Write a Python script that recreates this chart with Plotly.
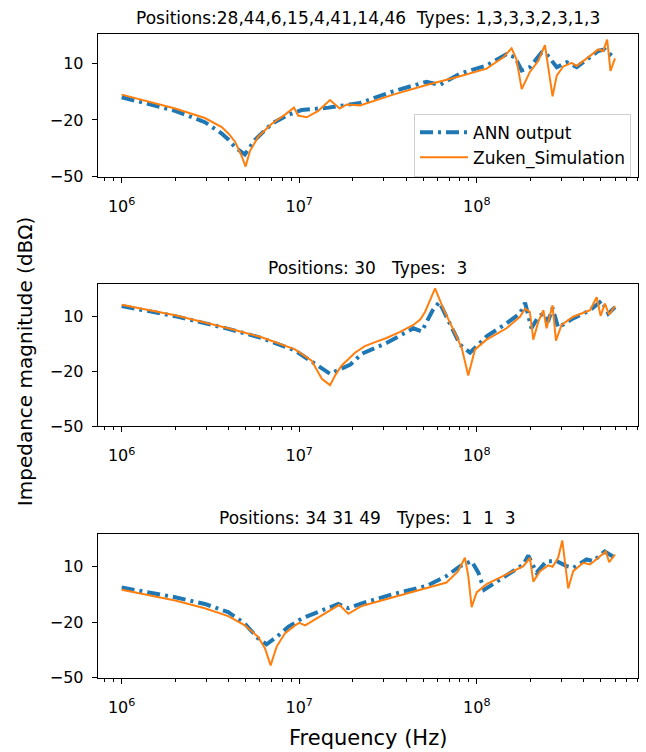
import plotly.graph_objects as go

# ---------------- data (frequency in Hz, impedance in dBOhm) ----------------
titles = [
    "Positions:28,44,6,15,4,41,14,46  Types: 1,3,3,3,2,3,1,3",
    "Positions: 30   Types:  3",
    "Positions: 34 31 49   Types:  1  1  3",
]

# Subplot 1
ann1_f = [1.00e6, 1.40e6, 2.00e6, 2.94e6, 3.66e6, 4.00e6, 4.35e6, 4.94e6, 5.62e6, 7.00e6, 8.71e6, 1.03e7,
          1.46e7, 2.20e7, 3.38e7, 5.21e7, 6.17e7, 8.04e7, 1.135e8, 1.47e8, 1.64e8, 1.79e8,
          1.99e8, 2.32e8, 2.47e8, 2.82e8, 3.21e8, 3.65e8, 4.34e8, 4.83e8, 5.25e8, 6.00e8]
ann1_z = [-8.0, -11.6, -15.2, -21.2, -27.2, -30.5, -34.4, -38.3, -30.6, -22.0, -17.2, -14.8,
          -13.5, -11.0, -4.9, 0.2, -1.5, 4.5, 8.8, 14.8, 13.1, 6.2,
          7.9, 15.7, 14.8, 7.9, 10.5, 7.9, 13.1, 16.5, 17.3, 12.6]
sim1_f = [1.00e6, 1.40e6, 2.00e6, 2.94e6, 3.66e6, 4.00e6, 4.35e6, 4.74e6, 4.99e6, 5.27e6, 5.87e6, 7.00e6,
          8.32e6, 9.33e6, 9.86e6, 1.10e7, 1.28e7, 1.49e7, 1.69e7, 1.85e7, 2.20e7, 3.38e7,
          5.21e7, 8.04e7, 1.135e8, 1.41e8, 1.57e8, 1.67e8, 1.79e8, 1.99e8, 2.22e8, 2.42e8,
          2.67e8, 2.82e8, 3.07e8, 3.42e8, 3.65e8, 4.34e8, 4.83e8, 5.15e8, 5.42e8, 5.66e8, 6.00e8]
sim1_z = [-6.6, -10.2, -14.0, -19.0, -23.8, -27.3, -31.5, -39.2, -44.7, -36.6, -28.9, -22.0,
          -17.2, -13.5, -17.7, -18.6, -15.2, -9.5, -14.0, -11.8, -12.3, -6.6,
          -1.5, 3.1, 7.1, 13.1, 17.9, 12.2, -3.7, 5.4, 11.3, 19.6,
          -7.5, 3.6, 8.3, 10.2, 8.5, 13.9, 17.3, 16.5, 22.5, 5.9, 12.6]

# Subplot 2
ann2_f = [1.00e6, 2.00e6, 3.98e6, 6.14e6, 9.46e6, 1.175e7, 1.34e7, 1.49e7, 1.94e7, 2.25e7,
          3.10e7, 4.39e7, 4.90e7, 5.64e7, 6.15e7, 7.00e7, 8.04e7, 9.16e7, 1.135e8, 1.47e8,
          1.75e8, 1.87e8, 2.03e8, 2.22e8, 2.37e8, 2.52e8, 2.67e8, 2.87e8, 3.49e8, 4.34e8,
          5.05e8, 5.50e8, 6.00e8]
ann2_z = [15.5, 10.0, 3.1, -1.9, -8.7, -14.7, -18.3, -21.4, -16.4, -10.5,
          -4.6, 3.4, 1.7, 13.2, 17.7, 7.0, -5.5, -9.9, -1.0, 6.1,
          11.4, 17.3, 3.4, 9.7, 11.4, 7.0, 14.5, 3.8, 8.8, 13.2,
          18.5, 11.4, 14.9]
sim2_f = [1.00e6, 2.00e6, 3.98e6, 6.14e6, 9.46e6, 1.175e7, 1.34e7, 1.49e7, 1.60e7, 1.73e7, 2.06e7,
          2.34e7, 2.70e7, 3.10e7, 3.70e7, 4.39e7, 4.80e7, 5.11e7, 5.82e7, 6.47e7, 7.38e7, 8.22e7, 8.95e7, 9.77e7,
          1.135e8, 1.47e8, 1.75e8, 1.87e8, 1.99e8, 2.08e8, 2.22e8, 2.37e8, 2.47e8, 2.67e8,
          2.79e8, 3.00e8, 3.49e8, 4.34e8, 4.73e8, 4.98e8, 5.26e8, 5.56e8, 6.00e8]
sim2_z = [16.2, 10.5, 3.4, -1.5, -8.1, -14.3, -24.1, -27.6, -22.0, -17.0, -9.9,
          -6.3, -4.0, -1.9, 1.4, 5.2, 8.2, 12.3, 25.1, 14.1, 2.5, -7.2, -22.3, -8.1,
          -2.8, 3.4, 9.7, 14.1, 12.3, -2.8, 7.0, 13.2, 3.4, 15.9,
          -3.3, 5.2, 9.7, 13.2, 20.3, 10.2, 16.8, 10.9, 15.5]

# Subplot 3
ann3_f = [1.00e6, 2.00e6, 2.94e6, 3.98e6, 4.94e6, 5.87e6, 6.55e6, 7.46e6, 8.67e6, 1.03e7,
          1.34e7, 1.66e7, 1.89e7, 2.25e7, 3.38e7, 5.21e7, 6.75e7, 8.04e7, 9.35e7, 1.02e8,
          1.10e8, 1.23e8, 1.47e8, 1.83e8, 1.95e8, 2.17e8, 2.47e8, 2.82e8, 3.20e8, 3.49e8,
          4.15e8, 4.53e8, 5.25e8, 6.00e8]
ann3_z = [-1.5, -6.7, -10.3, -14.7, -20.9, -28.8, -32.0, -28.0, -22.6, -18.2,
          -13.8, -10.3, -12.6, -10.0, -5.0, -0.6, 4.7, 10.0, 12.7, 6.5,
          -2.7, 0.3, 5.6, 10.9, 15.7, 6.5, 12.7, 12.7, 10.0, 9.1,
          13.6, 12.7, 17.9, 14.5]
sim3_f = [1.00e6, 2.00e6, 2.94e6, 3.98e6, 4.94e6, 5.87e6, 6.41e6, 6.90e6, 7.46e6, 8.30e6,
          9.46e6, 1.00e7, 1.08e7, 1.34e7, 1.68e7, 1.89e7, 2.25e7, 3.38e7, 5.21e7, 6.75e7,
          7.85e7, 8.57e7, 8.95e7, 9.35e7, 9.98e7, 1.135e8, 1.47e8, 1.83e8, 1.99e8, 2.08e8,
          2.27e8, 2.52e8, 2.67e8, 2.87e8, 3.03e8, 3.27e8, 3.49e8, 3.97e8, 4.34e8, 4.93e8,
          5.33e8, 5.56e8, 6.00e8]
sim3_z = [-2.7, -8.5, -12.6, -16.8, -21.8, -28.0, -34.1, -43.3, -33.2, -26.2,
          -21.8, -20.5, -21.8, -16.5, -10.8, -15.6, -11.4, -6.7, -2.0, 1.2,
          7.3, 14.5, 4.7, -12.0, -4.1, 0.3, 5.6, 10.0, 14.5, 1.7,
          7.3, 10.4, 9.7, 14.5, 23.8, -2.0, 7.3, 11.8, 10.9, 15.0,
          17.9, 12.1, 16.2]

ann_series = [(ann1_f, ann1_z), (ann2_f, ann2_z), (ann3_f, ann3_z)]
sim_series = [(sim1_f, sim1_z), (sim2_f, sim2_z), (sim3_f, sim3_z)]
y_top = [25.7, 27.6, 27.0]
y_ticks = [-50, -20, 10]
x_ticks = [1e6, 1e7, 1e8]
x_ticktext = ["10<sup>6</sup>", "10<sup>7</sup>", "10<sup>8</sup>"]
series_names = ["ANN output", "Zuken_Simulation"]

# ---------------- layout geometry ----------------
W, H = 646, 752
x_left, x_right = 97.7, 637.7
rows_px = [(34.0, 179.0), (287.7, 432.0), (541.7, 687.0)]

minor_vals = [m * 10 ** e for e in range(5, 9) for m in range(2, 10)]

FONT = "DejaVu Sans"
BLUE = "#1f77b4"
ORANGE = "#ff7f0e"

fig = go.Figure()
for i in range(3):
    xa = "x" if i == 0 else f"x{i+1}"
    ya = "y" if i == 0 else f"y{i+1}"
    fa, za = ann_series[i]
    fs, zs = sim_series[i]
    fig.add_trace(go.Scatter(x=fa, y=za, mode="lines", name=series_names[0],
                             line=dict(color=BLUE, width=4, dash="13px,5px,3px,5px"),
                             xaxis=xa, yaxis=ya, showlegend=(i == 0)))
    fig.add_trace(go.Scatter(x=fs, y=zs, mode="lines", name=series_names[1],
                             line=dict(color=ORANGE, width=2),
                             xaxis=xa, yaxis=ya, showlegend=(i == 0)))

layout = dict(
    width=W, height=H,
    margin=dict(l=0, r=0, t=0, b=0),
    paper_bgcolor="white", plot_bgcolor="white",
    font=dict(family=FONT, size=16, color="black"),
    legend=dict(x=631 / W, xanchor="right", y=1 - 179 / H, yanchor="bottom",
                bgcolor="rgba(255,255,255,0.8)", bordercolor="#d0d0d0", borderwidth=1,
                font=dict(size=17, family=FONT), tracegroupgap=0,
                itemwidth=48),
)
annotations = []
for i in range(3):
    top, bot = rows_px[i]
    xkey = "xaxis" if i == 0 else f"xaxis{i+1}"
    ykey = "yaxis" if i == 0 else f"yaxis{i+1}"
    yname = "y" if i == 0 else f"y{i+1}"
    xname = "x" if i == 0 else f"x{i+1}"
    layout[xkey] = dict(
        type="log", domain=[x_left / W, x_right / W], anchor=yname,
        range=[5.865, 8.906], tickvals=x_ticks, ticktext=x_ticktext,
        ticks="outside", ticklen=5, tickwidth=1, tickcolor="black",
        ticklabelstandoff=10,
        showline=True, linecolor="black", linewidth=1, mirror=True,
        showgrid=False, zeroline=False, tickfont=dict(size=16, family=FONT),
        minor=dict(tickvals=minor_vals, ticks="outside", ticklen=3, tickwidth=1,
                   tickcolor="black", showgrid=False),
    )
    layout[ykey] = dict(
        domain=[1 - bot / H, 1 - top / H], anchor=xname,
        range=[-50, y_top[i]], tickvals=y_ticks,
        ticktext=[f"\u2212{abs(v)}" if v < 0 else str(v) for v in y_ticks],
        ticks="outside", ticklen=5, tickwidth=1, tickcolor="black",
        ticklabelstandoff=5,
        showline=True, linecolor="black", linewidth=1, mirror=True,
        showgrid=False, zeroline=False, tickfont=dict(size=16, family=FONT),
    )
    annotations.append(dict(
        text=titles[i], xref="paper", yref="paper",
        x=(x_left + x_right) / 2 / W, y=1 - top / H,
        xanchor="center", yanchor="bottom", yshift=4, showarrow=False,
        font=dict(size=17, family=FONT, color="black"),
    ))

annotations.append(dict(text="Frequency (Hz)", xref="paper", yref="paper",
                        x=(x_left + x_right) / 2 / W, y=1 - 748 / H,
                        xanchor="center", yanchor="middle", showarrow=False,
                        font=dict(size=21, family=FONT, color="black")))
annotations.append(dict(text="Impedance magnitude (dB\u03a9)", xref="paper", yref="paper",
                        x=25 / W, y=1 - 366 / H, textangle=-90,
                        xanchor="center", yanchor="middle", showarrow=False,
                        font=dict(size=20, family=FONT, color="black")))
layout["annotations"] = annotations
fig.update_layout(**layout)
fig.write_html("out.html")
